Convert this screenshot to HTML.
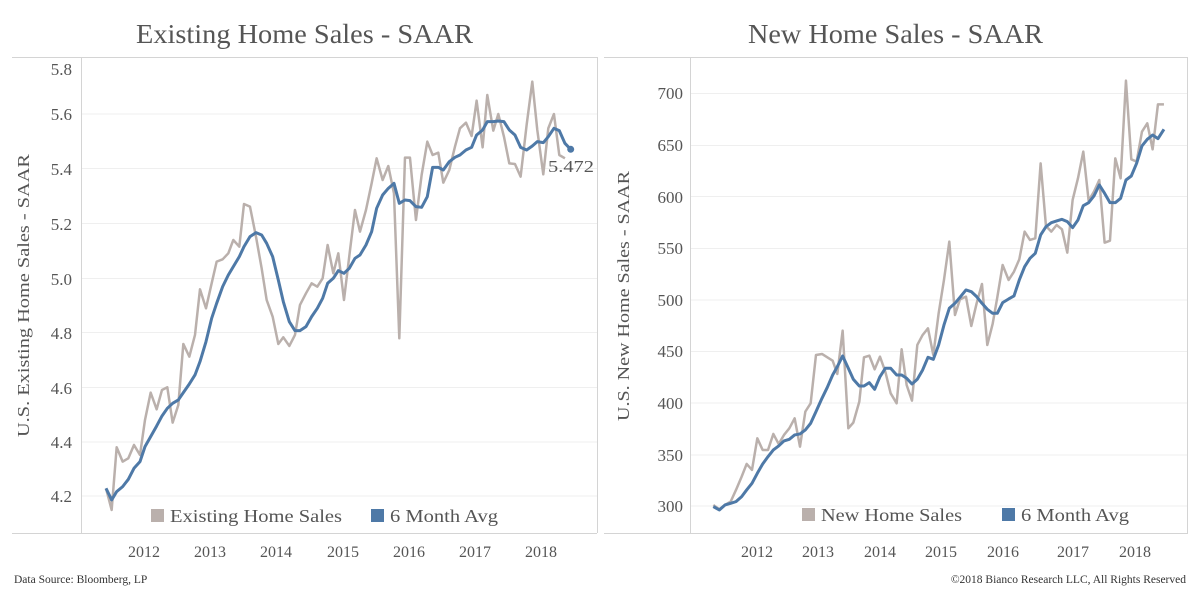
<!DOCTYPE html>
<html><head><meta charset="utf-8"><style>
html,body{margin:0;padding:0;background:#fff;}
svg{display:block;font-family:"Liberation Serif",serif;}
</style></head><body>
<svg width="1200" height="600" viewBox="0 0 1200 600" xmlns="http://www.w3.org/2000/svg">
<rect width="1200" height="600" fill="#fff"/>
<text x="136" y="43" font-size="27" fill="#555" textLength="337" lengthAdjust="spacingAndGlyphs">Existing Home Sales - SAAR</text>
<text x="748" y="43" font-size="27" fill="#555" textLength="295" lengthAdjust="spacingAndGlyphs">New Home Sales - SAAR</text>

<g stroke="#d4d4d4" stroke-width="1" fill="none">
<line x1="12" y1="57.5" x2="597" y2="57.5"/>
<line x1="12" y1="533.5" x2="597" y2="533.5"/>
<line x1="81.5" y1="57" x2="81.5" y2="533"/>
<line x1="597.5" y1="57" x2="597.5" y2="533"/>
<line x1="604" y1="57.5" x2="1188" y2="57.5"/>
<line x1="604" y1="533.5" x2="1188" y2="533.5"/>
<line x1="690.5" y1="57" x2="690.5" y2="533"/>
<line x1="1187.5" y1="57" x2="1187.5" y2="533"/>
</g>
<g stroke="#efefef" stroke-width="1">
<line x1="82" y1="114" x2="597" y2="114"/><line x1="82" y1="168.5" x2="597" y2="168.5"/>
<line x1="82" y1="223.5" x2="597" y2="223.5"/><line x1="82" y1="278.5" x2="597" y2="278.5"/>
<line x1="82" y1="332.5" x2="597" y2="332.5"/><line x1="82" y1="387.5" x2="597" y2="387.5"/>
<line x1="82" y1="442" x2="597" y2="442"/><line x1="82" y1="496" x2="597" y2="496"/>
<line x1="691" y1="93.5" x2="1187" y2="93.5"/><line x1="691" y1="145.5" x2="1187" y2="145.5"/>
<line x1="691" y1="196.5" x2="1187" y2="196.5"/><line x1="691" y1="248.5" x2="1187" y2="248.5"/>
<line x1="691" y1="300" x2="1187" y2="300"/><line x1="691" y1="351.5" x2="1187" y2="351.5"/>
<line x1="691" y1="403" x2="1187" y2="403"/><line x1="691" y1="455" x2="1187" y2="455"/>
<line x1="691" y1="506" x2="1187" y2="506"/>
</g>

<g font-size="17" fill="#555" text-anchor="end">
<text x="72" y="75">5.8</text><text x="72" y="120">5.6</text><text x="72" y="175">5.4</text>
<text x="72" y="230">5.2</text><text x="72" y="285">5.0</text><text x="72" y="339">4.8</text>
<text x="72" y="394">4.6</text><text x="72" y="448">4.4</text><text x="72" y="502">4.2</text>
<text x="683" y="99">700</text><text x="683" y="151">650</text><text x="683" y="203">600</text>
<text x="683" y="254">550</text><text x="683" y="306">500</text><text x="683" y="357">450</text>
<text x="683" y="409">400</text><text x="683" y="461">350</text><text x="683" y="512">300</text>
</g>
<g font-size="16" fill="#555" text-anchor="middle">
<text x="144" y="557">2012</text><text x="210" y="557">2013</text><text x="276" y="557">2014</text>
<text x="343" y="557">2015</text><text x="409" y="557">2016</text><text x="475" y="557">2017</text><text x="541" y="557">2018</text>
<text x="757" y="557">2012</text><text x="818" y="557">2013</text><text x="880" y="557">2014</text>
<text x="941" y="557">2015</text><text x="1003" y="557">2016</text><text x="1073" y="557">2017</text><text x="1135" y="557">2018</text>
</g>
<text transform="translate(29,437) rotate(-90)" font-size="17" fill="#555" textLength="283" lengthAdjust="spacingAndGlyphs">U.S. Existing Home Sales - SAAR</text>
<text transform="translate(629,421) rotate(-90)" font-size="17" fill="#555" textLength="250" lengthAdjust="spacingAndGlyphs">U.S. New Home Sales - SAAR</text>

<g transform="translate(80,60) scale(0.3333)" fill="none" stroke-linejoin="round">
<polyline vector-effect="non-scaling-stroke" stroke="#bab0ac" stroke-width="2.5" points="78,1285 95,1350 110,1162 128,1205 145,1195 162,1155 180,1185 195,1080 212,998 230,1048 246,990 262,982 278,1088 295,1035 310,852 328,890 345,825 360,688 378,745 395,670 410,605 428,598 445,580 460,540 478,560 492,432 510,440 528,530 545,625 560,720 578,770 595,852 610,832 628,858 645,825 660,735 678,700 695,670 712,680 728,655 743,555 760,640 775,580 792,720 808,588 825,450 840,515 858,450 875,370 890,295 908,360 925,318 942,400 958,835 975,293 990,293 1008,480 1025,345 1042,245 1058,285 1075,278 1090,368 1108,330 1125,260 1140,205 1158,188 1175,228 1190,122 1208,262 1222,105 1240,212 1255,162 1272,230 1288,310 1305,312 1322,350 1340,195 1357,65 1372,210 1390,343 1405,205 1422,162 1438,285 1455,295"/>
<polyline vector-effect="non-scaling-stroke" stroke="#4e79a7" stroke-width="3" points="78,1285 95,1320 110,1295 128,1280 145,1258 162,1225 180,1205 195,1160 212,1130 230,1098 246,1068 262,1045 278,1030 295,1020 310,998 328,972 345,945 360,905 378,845 395,775 410,730 428,680 445,645 460,620 478,590 492,560 510,530 528,518 545,525 560,550 578,590 595,660 610,725 628,785 645,812 660,812 678,800 695,770 712,745 728,715 743,670 760,655 775,632 792,640 808,625 825,595 840,585 858,555 875,515 890,445 908,405 925,385 942,370 958,430 975,420 990,422 1008,440 1025,442 1042,410 1058,322 1075,322 1090,330 1108,305 1125,292 1140,285 1158,270 1175,262 1190,225 1208,210 1222,185 1240,185 1255,183 1272,185 1288,210 1305,225 1322,262 1340,270 1357,258 1372,245 1390,248 1405,230 1422,205 1438,212 1455,250 1472,268"/>
</g>
<circle cx="570.7" cy="149.3" r="3.5" fill="#4e79a7"/>
<text x="548" y="172" font-size="17" fill="#555" textLength="46" lengthAdjust="spacingAndGlyphs">5.472</text>

<g transform="translate(680,60) scale(0.3333)" fill="none" stroke-linejoin="round">
<polyline vector-effect="non-scaling-stroke" stroke="#bab0ac" stroke-width="2.5" points="100,1335 118,1348 135,1335 152,1325 168,1290 185,1250 200,1212 216,1230 232,1135 248,1170 264,1170 280,1122 296,1152 312,1125 328,1105 344,1075 360,1160 376,1055 392,1030 408,885 426,882 442,892 458,902 472,942 488,812 505,1105 520,1088 538,1025 552,892 568,887 584,928 600,890 616,935 632,1000 650,1030 665,868 680,975 696,1022 712,855 728,825 744,805 760,885 776,760 792,660 808,545 825,765 840,718 858,710 874,798 890,730 906,672 922,855 938,792 952,712 968,615 986,660 1002,635 1018,598 1034,515 1050,540 1066,535 1082,310 1098,498 1114,515 1130,495 1146,508 1162,578 1178,420 1194,355 1210,275 1226,422 1242,395 1258,360 1274,548 1290,542 1306,295 1322,355 1338,62 1354,298 1370,305 1386,215 1402,190 1418,268 1434,133 1452,133"/>
<polyline vector-effect="non-scaling-stroke" stroke="#4e79a7" stroke-width="3" points="100,1340 118,1350 135,1335 152,1330 168,1325 185,1310 200,1290 216,1270 232,1240 248,1212 264,1190 280,1170 296,1158 312,1143 328,1138 344,1125 360,1122 376,1110 392,1090 408,1055 426,1015 442,982 458,945 472,920 488,888 505,925 520,958 538,978 552,978 568,968 584,988 600,950 616,925 632,925 650,945 665,945 680,955 696,972 712,958 728,930 744,892 760,898 776,855 792,795 808,745 825,730 840,712 858,690 874,695 890,710 906,730 922,748 938,760 952,760 968,728 986,717 1002,708 1018,660 1034,620 1050,595 1066,580 1082,525 1098,500 1114,488 1130,483 1146,478 1162,485 1178,503 1194,480 1210,437 1226,428 1242,408 1258,375 1274,400 1290,428 1306,428 1322,415 1338,360 1354,348 1370,310 1386,258 1402,238 1418,225 1434,236 1452,208"/>
</g>

<g font-size="18" fill="#555">
<rect x="151" y="509" width="13" height="13" fill="#bab0ac"/><text x="170" y="522" textLength="172" lengthAdjust="spacingAndGlyphs">Existing Home Sales</text>
<rect x="371" y="509" width="13" height="13" fill="#4e79a7"/><text x="390" y="522" textLength="108" lengthAdjust="spacingAndGlyphs">6 Month Avg</text>
<rect x="802" y="508" width="13" height="13" fill="#bab0ac"/><text x="821" y="521" textLength="141" lengthAdjust="spacingAndGlyphs">New Home Sales</text>
<rect x="1002" y="508" width="13" height="13" fill="#4e79a7"/><text x="1021" y="521" textLength="108" lengthAdjust="spacingAndGlyphs">6 Month Avg</text>
</g>
<text x="14" y="583" font-size="11.5" fill="#333">Data Source: Bloomberg, LP</text>
<text x="1186" y="583" font-size="11.5" fill="#333" text-anchor="end">©2018 Bianco Research LLC, All Rights Reserved</text>
</svg>
</body></html>
